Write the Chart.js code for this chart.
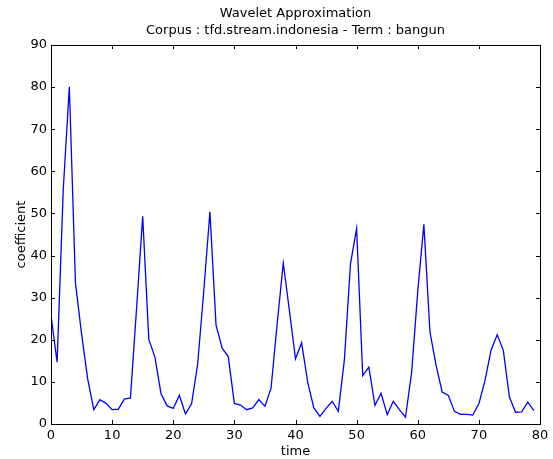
<!DOCTYPE html>
<html>
<head>
<meta charset="utf-8">
<script src="https://cdn.jsdelivr.net/npm/chart.js@4.4.1/dist/chart.umd.min.js"></script>
<style>
  html, body { margin: 0; padding: 0; background: #fff; }
  #wrap { width: 553px; height: 459px; }
</style>
</head>
<body>
<div id="wrap"><canvas id="waveChart"></canvas></div>
<script>
const timeSteps = [0, 1, 2, 3, 4, 5, 6, 7, 8, 9, 10, 11, 12, 13, 14, 15, 16, 17, 18, 19,
    20, 21, 22, 23, 24, 25, 26, 27, 28, 29, 30, 31, 32, 33, 34, 35, 36, 37, 38, 39,
    40, 41, 42, 43, 44, 45, 46, 47, 48, 49, 50, 51, 52, 53, 54, 55, 56, 57, 58, 59,
    60, 61, 62, 63, 64, 65, 66, 67, 68, 69, 70, 71, 72, 73, 74, 75, 76, 77, 78, 79];

const coefficients = [25.8, 14.7, 55.5, 80.1, 33.5, 21.4, 10.7, 3.4, 5.8, 4.9,
    3.4, 3.5, 5.9, 6.2, 27.5, 49.3, 20.1, 15.9, 7.2, 4.3,
    3.7, 6.8, 2.4, 4.8, 14.3, 31.7, 50.4, 23.5, 18.0, 16.0,
    4.9, 4.5, 3.4, 3.8, 5.8, 4.2, 8.5, 23.8, 38.2, 27.0,
    15.5, 19.3, 9.9, 3.8, 1.8, 3.7, 5.4, 3.0, 15.3, 38.1,
    46.4, 11.5, 13.5, 4.4, 7.3, 2.2, 5.4, 3.4, 1.6, 12.3,
    31.5, 47.4, 21.8, 13.9, 7.6, 6.8, 3.0, 2.3, 2.3, 2.1,
    4.8, 10.3, 17.6, 21.2, 17.5, 6.4, 2.8, 2.9, 5.2, 3.2];

const titleLines = ['Wavelet Approximation', 'Corpus : tfd.stream.indonesia - Term : bangun'];

Chart.defaults.font.family = '"DejaVu Sans", sans-serif';
Chart.defaults.font.size = 13;
Chart.defaults.color = '#000';

// matplotlib style frame, inward ticks and title centred over the axes
const framePlugin = {
    id: 'frame',
    afterDraw(chart) {
        const { ctx, chartArea: a, scales } = chart;
        ctx.save();
        ctx.strokeStyle = '#000';
        ctx.lineWidth = 1;
        ctx.strokeRect(Math.round(a.left) + 0.5, Math.round(a.top) + 0.5,
            Math.round(a.right - a.left), Math.round(a.bottom - a.top));
        const len = 4;
        ctx.beginPath();
        scales.x.ticks.forEach(t => {
            const px = Math.round(scales.x.getPixelForValue(t.value)) + 0.5;
            ctx.moveTo(px, a.bottom); ctx.lineTo(px, a.bottom - len);
            ctx.moveTo(px, a.top); ctx.lineTo(px, a.top + len);
        });
        scales.y.ticks.forEach(t => {
            const py = Math.round(scales.y.getPixelForValue(t.value)) + 0.5;
            ctx.moveTo(a.left, py); ctx.lineTo(a.left + len, py);
            ctx.moveTo(a.right, py); ctx.lineTo(a.right - len, py);
        });
        ctx.stroke();

        ctx.fillStyle = '#000';
        ctx.font = '13px "DejaVu Sans", sans-serif';
        ctx.textAlign = 'center';
        ctx.textBaseline = 'middle';
        const cx = (a.left + a.right) / 2;
        ctx.fillText(titleLines[0], cx, 14);
        ctx.fillText(titleLines[1], cx, 31);
        ctx.restore();
    }
};

new Chart(document.getElementById('waveChart'), {
    type: 'line',
    data: {
        datasets: [{
            label: 'coefficient',
            data: timeSteps.map((t, i) => ({ x: t, y: coefficients[i] })),
            borderColor: '#0000ff',
            borderWidth: 1.3,
            pointRadius: 0,
            tension: 0,
            fill: false
        }]
    },
    options: {
        responsive: true,
        maintainAspectRatio: false,
        animation: false,
        layout: { padding: { left: 0, right: 13, top: 45, bottom: 0 } },
        plugins: { legend: { display: false }, tooltip: { enabled: false } },
        scales: {
            x: {
                type: 'linear', min: 0, max: 80,
                afterFit: s => { s.height = 35; },
                grid: { display: false, drawTicks: false },
                border: { display: false },
                ticks: { stepSize: 10, padding: 4, maxRotation: 0 },
                title: { display: true, text: 'time', padding: { top: 0, bottom: 0 } }
            },
            y: {
                min: 0, max: 90,
                afterFit: s => { s.width = 51; },
                grid: { display: false, drawTicks: false },
                border: { display: false },
                ticks: { stepSize: 10, padding: 4 },
                title: { display: true, text: 'coefficient', padding: { top: 14, bottom: 0 } }
            }
        }
    },
    plugins: [framePlugin]
});
</script>
</body>
</html>
